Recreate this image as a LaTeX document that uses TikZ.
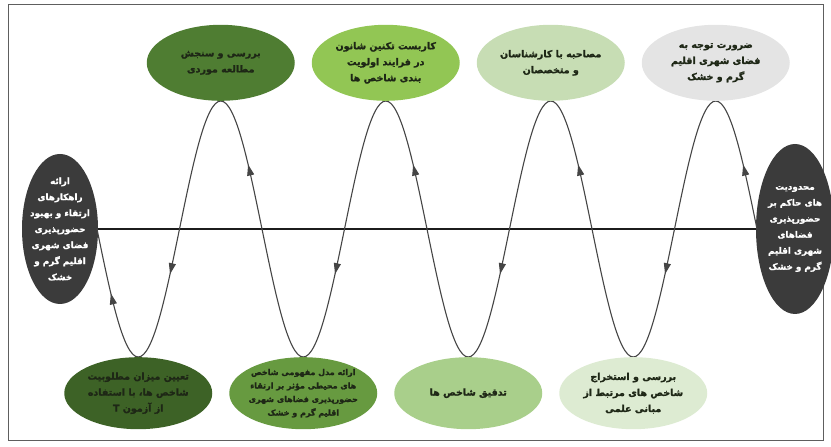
\documentclass[tikz,border=0pt]{standalone}
\usepackage{fontspec}
\usepackage{xcolor}
\usepackage{tikz}
\usetikzlibrary{shapes.geometric,arrows.meta,decorations.markings}
\TeXXeTstate=1
\newfontfamily\farsi[Script=Arabic,FakeBold=1.6]{DejaVu Sans Bold}
\newcommand{\rline}[1]{\beginR#1\endR}
\definecolor{framegray}{HTML}{5E5E5E}
\definecolor{axis}{HTML}{1C1C1C}
\definecolor{wavegray}{HTML}{454545}
\definecolor{side}{HTML}{3B3B3B}
\definecolor{txt}{HTML}{1E2716}
\definecolor{gtopA}{HTML}{4F7D32}
\definecolor{gtopB}{HTML}{92C654}
\definecolor{gtopC}{HTML}{C7DDB4}
\definecolor{gtopD}{HTML}{E4E4E4}
\definecolor{gbotA}{HTML}{3D6226}
\definecolor{gbotB}{HTML}{679A40}
\definecolor{gbotC}{HTML}{A9CF8B}
\definecolor{gbotD}{HTML}{DDEBD2}
\tikzset{
  box/.style={ellipse, inner sep=-6pt, minimum width=148pt, minimum height=76pt,
    align=center, text=txt, font=\farsi\bfseries\fontsize{9.5}{16}\selectfont},
  topbox/.style={box, anchor=south},
  botbox/.style={box, anchor=north, minimum height=72pt},
  sidebox/.style={box, fill=side, text=white, inner xsep=-12pt, inner ysep=-14pt,
    minimum width=76pt, minimum height=150pt,
    font=\farsi\bfseries\fontsize{8.8}{16}\selectfont},
  axisline/.style={draw=axis, line width=1.8pt},
  waveline/.style={draw=wavegray, line width=1.1pt, line join=round,
    postaction={decorate, decoration={markings,
      mark=at position 0.030 with {\arrow{Triangle[length=11pt,width=7pt]}},
      mark=at position 0.146 with {\arrow{Triangle[length=11pt,width=7pt]}},
      mark=at position 0.280 with {\arrow{Triangle[length=11pt,width=7pt]}},
      mark=at position 0.396 with {\arrow{Triangle[length=11pt,width=7pt]}},
      mark=at position 0.530 with {\arrow{Triangle[length=11pt,width=7pt]}},
      mark=at position 0.646 with {\arrow{Triangle[length=11pt,width=7pt]}},
      mark=at position 0.780 with {\arrow{Triangle[length=11pt,width=7pt]}},
      mark=at position 0.896 with {\arrow{Triangle[length=11pt,width=7pt]}},
      mark=at position 0.970 with {\arrow{Triangle[length=11pt,width=7pt]}}}}},
  framebox/.style={draw=framegray, line width=1pt},
}

\begin{document}
\begin{tikzpicture}[x=1pt,y=1pt]
  \useasboundingbox (0,0) rectangle (831,447);
  \def\hp{82.5}
  \def\amp{128}
  \def\ymid{218}
  \def\xs{97}
  \draw[framebox] (8,6) rectangle (823,442);

  % zero crossings and extremes of the wave
  \foreach \i in {0,...,8}
    \coordinate (c\i) at ({\xs+\i*\hp},\ymid);
  \foreach \k in {1,...,4} {
    \coordinate (t\k) at ({\xs+(2*\k-1.5)*\hp},{\ymid-\amp});
    \coordinate (p\k) at ({\xs+(2*\k-0.5)*\hp},{\ymid+\amp});
  }

  \node[sidebox] (goal) at (60,\ymid) {\rline{ارائه}\\\rline{راهکارهای}\\\rline{ارتقاء و بهبود}\\\rline{حضورپذیری}\\\rline{فضای شهری}\\\rline{اقلیم گرم و}\\\rline{خشک}};
  \node[sidebox, minimum width=78pt, minimum height=170pt] (limit) at (795,\ymid) {\rline{محدودیت}\\\rline{های حاکم بر}\\\rline{حضورپذیری}\\\rline{فضاهای}\\\rline{شهری اقلیم}\\\rline{گرم و خشک}};
  \draw[axisline] (goal) -- (limit);

  \draw[waveline] (c8) sin (p4) cos (c7) sin (t4) cos (c6) sin (p3) cos (c5) sin (t3) cos (c4)
    sin (p2) cos (c3) sin (t2) cos (c2) sin (p1) cos (c1) sin (t1) cos (c0);

  % upper steps
  \node[topbox, fill=gtopA] (study) at (p1) {\rline{بررسی و سنجش}\\\rline{مطالعه موردی}};
  \node[topbox, fill=gtopB] (shannon) at (p2) {\rline{کاربست تکنین شانون}\\\rline{در فرایند اولویت}\\\rline{بندی شاخص ها}};
  \node[topbox, fill=gtopC] (interview) at (p3) {\rline{مصاحبه با کارشناسان}\\\rline{و متخصصان}};
  \node[topbox, fill=gtopD] (need) at (p4) {\rline{ضرورت توجه به}\\\rline{فضای شهری اقلیم}\\\rline{گرم و خشک}};

  % lower steps
  \node[botbox, fill=gbotA] (ttest) at (t1) {\rline{تعیین میزان مطلوبیت}\\\rline{شاخص ها، با استفاده}\\\rline{از آزمون \beginL T\endL}};
  \node[botbox, fill=gbotB, font=\farsi\bfseries\fontsize{8}{13.5}\selectfont] (model) at (t2) {\rline{ارائه مدل مفهومی شاخص}\\\rline{های محیطی مؤثر بر ارتقاء}\\\rline{حضورپذیری فضاهای شهری}\\\rline{اقلیم گرم و خشک}};
  \node[botbox, fill=gbotC] (refine) at (t3) {\rline{تدقیق شاخص ها}};
  \node[botbox, fill=gbotD] (extract) at (t4) {\rline{بررسی و استخراج}\\\rline{شاخص های مرتبط از}\\\rline{مبانی علمی}};
\end{tikzpicture}
\end{document}
